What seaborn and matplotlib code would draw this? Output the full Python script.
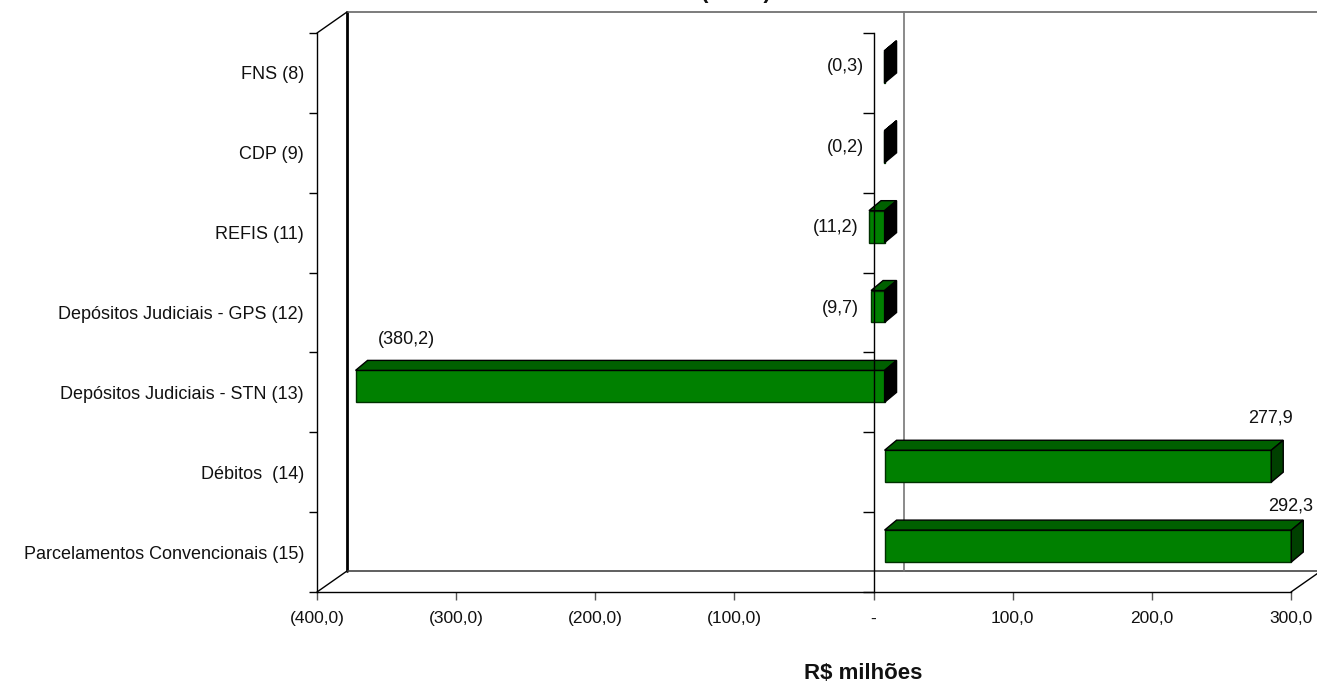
import matplotlib
matplotlib.use("Agg")
import matplotlib.pyplot as plt
from matplotlib.patches import Polygon
from matplotlib.transforms import Affine2D, IdentityTransform
import numpy as np
import pandas as pd
import seaborn as sns

categories = ["FNS (8)", "CDP (9)", "REFIS (11)", "Depósitos Judiciais - GPS (12)",
              "Depósitos Judiciais - STN (13)", "Débitos  (14)", "Parcelamentos Convencionais (15)"]
values = [-0.3, -0.2, -11.2, -9.7, -380.2, 277.9, 292.3]
value_labels = ["(0,3)", "(0,2)", "(11,2)", "(9,7)", "(380,2)", "277,9", "292,3"]
x_ticks = [-400, -300, -200, -100, 0, 100, 200, 300]
x_tick_labels = ["(400,0)", "(300,0)", "(200,0)", "(100,0)", "-", "100,0", "200,0", "300,0"]

label_offsets_px = [(-28, 6), (-28, 5), (-22, 5), (-20, 4), (62, 53), (10, 54), (10, 46)]

W, H = 1317, 682
L, R, T, B = 317, 1291, 33, 592
sns.set_theme(style="white")
plt.rcParams["font.family"] = ["Liberation Sans", "DejaVu Sans"]
FS = 13
TXT = "#111111"

fig = plt.figure(figsize=(W / 100, H / 100), dpi=100, facecolor="white")
ax = fig.add_axes([L / W, 1 - B / H, (R - L) / W, (B - T) / H])
ax.patch.set_alpha(0)

df = pd.DataFrame({"categoria": categories, "valor": values})
sns.barplot(data=df, y="categoria", x="valor", orient="h", color="#008000",
            saturation=1, width=0.4, ax=ax, zorder=2)
ax.set_xlim(-400, 300)
ax.set_ylim(6.5, -0.5)
ax.set_ylabel("")

# Frame
for s in ("top", "right"):
    ax.spines[s].set_visible(False)
for s in ("left", "bottom"):
    ax.spines[s].set_visible(True)
    ax.spines[s].set_color("black")
    ax.spines[s].set_linewidth(1)

bounds = np.arange(-0.5, 7, 1)
ax.set_yticks(bounds, labels=[""] * len(bounds))
ax.set_yticks(range(len(categories)), labels=categories, minor=True)
ax.tick_params(axis="y", which="major", left=True, length=6, width=1, color="black")
ax.tick_params(axis="y", which="minor", left=False, length=0, pad=13 * 0.72,
               labelsize=FS, labelcolor=TXT)
ax.set_xticks(x_ticks, labels=x_tick_labels)
ax.tick_params(axis="x", bottom=True, length=6, width=1, color="#555555", pad=8,
               labelsize=12.5, labelcolor=TXT)
ax.set_xlabel("R$ milhões", fontweight="bold", fontsize=16, labelpad=26,
              x=(863 - L) / (R - L), color=TXT)

# Axis through zero
sec = ax.secondary_yaxis(location=(0 - (-400)) / 700)
sec.set_yticks(bounds, labels=[""] * len(bounds))
sec.tick_params(axis="y", left=True, right=False, length=8, width=1, color="black")
sec.spines["right"].set_visible(False)
sec.spines["left"].set_visible(True)
sec.spines["left"].set_color("black")
sec.spines["left"].set_linewidth(1)
sec.set_zorder(6)

# Back wall: front frame shifted by the depth of the chart
DX, DY = 30, 21
back = ax.transAxes + Affine2D().translate(DX, DY)
zero_ax = 400 / 700
ax.plot([0, 0], [0, 1], transform=back, color="black", lw=2, clip_on=False, zorder=1)
ax.plot([0, 1], [1, 1], transform=back, color="#666666", lw=1.2, clip_on=False, zorder=1)
ax.plot([0, 1], [0, 0], transform=back, color="#444444", lw=1.2, clip_on=False, zorder=1)
ax.plot([zero_ax, zero_ax], [0, 1], transform=back, color="#777777", lw=1.2, clip_on=False, zorder=1)
for ax_x, ax_y in [(0, 1), (0, 0), (1, 0)]:
    p0 = ax.transAxes.transform((ax_x, ax_y))
    ax.plot([p0[0], p0[0] + DX], [p0[1], p0[1] + DY], transform=IdentityTransform(),
            color="black", lw=1, clip_on=False, zorder=1)

# 3-D faces on each bar
FX, FY = 11, 6      # bars sit inside the depth
SX, SY = 12, 10     # bar depth
for bar, v in zip(ax.patches, values):
    x_a, x_b = bar.get_x(), bar.get_x() + bar.get_width()
    x0, x1 = min(x_a, x_b), max(x_a, x_b)
    y0 = bar.get_y()
    y1 = y0 + bar.get_height()
    (px0, py0), (px1, py1) = ax.transData.transform([(x0, y1), (x1, y0)])
    px0, px1 = px0 + FX, px1 + FX
    py0, py1 = py0 + FY, py1 + FY
    bar.set_transform(ax.transData + Affine2D().translate(FX, FY))
    bar.set_edgecolor("#003000")
    bar.set_linewidth(1)
    bar.set_clip_on(False)
    top = [(px0, py1), (px1, py1), (px1 + SX, py1 + SY), (px0 + SX, py1 + SY)]
    side = [(px1, py0), (px1 + SX, py0 + SY), (px1 + SX, py1 + SY), (px1, py1)]
    side_col = "black" if v < 0 else "#004000"
    ax.add_patch(Polygon(top, closed=True, transform=IdentityTransform(), facecolor="#006000",
                         edgecolor="black", lw=1, clip_on=False, zorder=2))
    ax.add_patch(Polygon(side, closed=True, transform=IdentityTransform(), facecolor=side_col,
                         edgecolor="black", lw=1, clip_on=False, zorder=2))

# Data labels
for i, (v, lab, off) in enumerate(zip(values, value_labels, label_offsets_px)):
    ax.annotate(lab, xy=(v, i), xytext=off, textcoords="offset pixels",
                ha="center", va="center", fontsize=FS, color=TXT, annotation_clip=False)

# Title cut off by the top edge of the picture: only the lower tips of its brackets show
fig.text(736 / W, 1 + 2 / H, "(" + " " * 9 + ")", ha="center", va="baseline",
         fontsize=16, fontweight="bold", color=TXT)

fig.savefig("out.png", dpi=100)
